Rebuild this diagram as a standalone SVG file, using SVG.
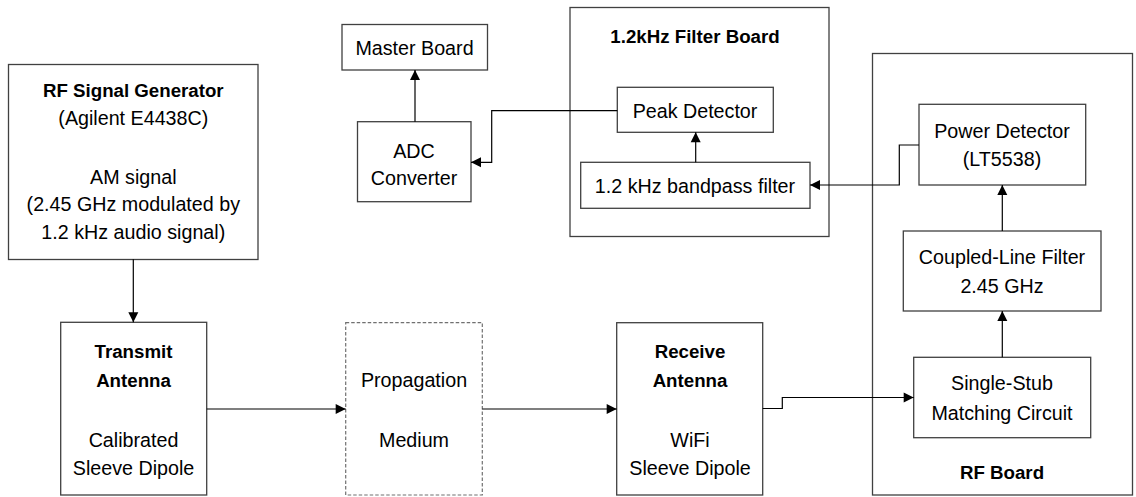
<svg xmlns="http://www.w3.org/2000/svg" width="1136" height="497" viewBox="0 0 1136 497">
<defs>
<marker id="arr" markerUnits="userSpaceOnUse" markerWidth="11" markerHeight="11" viewBox="0 0 11 11" refX="10.5" refY="5.5" orient="auto">
<path d="M0.5,0.5 L10.5,5.5 L0.5,10.5 Z" fill="#000"/>
</marker>
</defs>
<style>
.box{fill:#fff;stroke:#404040;stroke-width:1.3}
.dash{fill:#fff;stroke:#707070;stroke-width:1.2;stroke-dasharray:3.5 2}
.c{fill:none;stroke:#000;stroke-width:1.2;marker-end:url(#arr)}
text{font-family:"Liberation Sans",Arial,sans-serif;font-size:19.7px;fill:#000;text-anchor:middle}
.b{font-weight:bold;font-size:18.7px}
</style>
<rect width="1136" height="497" fill="#fff"/>
<g id="filter-board">
<rect class="box" x="570" y="7.5" width="259" height="229"/>
<text class="b" x="695" y="43">1.2kHz Filter Board</text>
</g>
<g id="rf-board">
<rect class="box" x="872.5" y="53.5" width="260" height="441.5"/>
<text class="b" x="1002" y="479">RF Board</text>
</g>
<g id="rf-signal-generator">
<rect class="box" x="8.5" y="64.5" width="249.5" height="195"/>
<text class="b" x="133.3" y="97">RF Signal Generator</text>
<text x="133.3" y="125">(Agilent E4438C)</text>
<text x="133.3" y="184">AM signal</text>
<text x="133.3" y="211">(2.45 GHz modulated by</text>
<text x="133.3" y="238.5">1.2 kHz audio signal)</text>
</g>
<g id="master-board">
<rect class="box" x="342" y="24.5" width="145.5" height="45.5"/>
<text x="414.5" y="55">Master Board</text>
</g>
<g id="adc-converter">
<rect class="box" x="357.5" y="121.7" width="113.5" height="80"/>
<text x="414" y="158">ADC</text>
<text x="414" y="185">Converter</text>
</g>
<g id="peak-detector">
<rect class="box" x="617.3" y="87.3" width="156" height="45"/>
<text x="695" y="118">Peak Detector</text>
</g>
<g id="bandpass-filter">
<rect class="box" x="580.7" y="162.3" width="229.3" height="46"/>
<text x="695" y="193">1.2 kHz bandpass filter</text>
</g>
<g id="power-detector">
<rect class="box" x="919" y="104.3" width="166.7" height="80.7"/>
<text x="1002" y="138">Power Detector</text>
<text x="1002" y="166">(LT5538)</text>
</g>
<g id="coupled-line-filter">
<rect class="box" x="903.3" y="231" width="197.7" height="80"/>
<text x="1002" y="264">Coupled-Line Filter</text>
<text x="1002" y="292.5">2.45 GHz</text>
</g>
<g id="single-stub">
<rect class="box" x="913.7" y="357.3" width="177" height="80.4"/>
<text x="1002" y="390">Single-Stub</text>
<text x="1002" y="419.5">Matching Circuit</text>
</g>
<g id="transmit-antenna">
<rect class="box" x="60.7" y="322.3" width="146" height="172.7"/>
<text class="b" x="133.5" y="358">Transmit</text>
<text class="b" x="133.5" y="387">Antenna</text>
<text x="133.5" y="447">Calibrated</text>
<text x="133.5" y="474.5">Sleeve Dipole</text>
</g>
<g id="propagation-medium">
<rect class="dash" x="345.7" y="322.7" width="136.6" height="172.3"/>
<text x="414" y="387">Propagation</text>
<text x="414" y="447">Medium</text>
</g>
<g id="receive-antenna">
<rect class="box" x="616.7" y="322.7" width="146" height="172.3"/>
<text class="b" x="690" y="358">Receive</text>
<text class="b" x="690" y="387">Antenna</text>
<text x="690" y="446.5">WiFi</text>
<text x="690" y="474.5">Sleeve Dipole</text>
</g>
<g id="connectors">
<path class="c" d="M133.3 259.3 V322.3"/>
<path class="c" d="M206.7 409 H345.7"/>
<path class="c" d="M482.3 409 H616.7"/>
<path class="c" d="M762.7 408.5 H782.3 V397.5 H913.7"/>
<path class="c" d="M1002.3 357.3 V311"/>
<path class="c" d="M1002.3 231 V185"/>
<path class="c" d="M919 145 H899.3 V185 H810"/>
<path class="c" d="M695.7 162.3 V132.3"/>
<path class="c" d="M617.3 110.7 H491.7 V162.3 H471"/>
<path class="c" d="M415 121.7 V70"/>
</g>
</svg>
